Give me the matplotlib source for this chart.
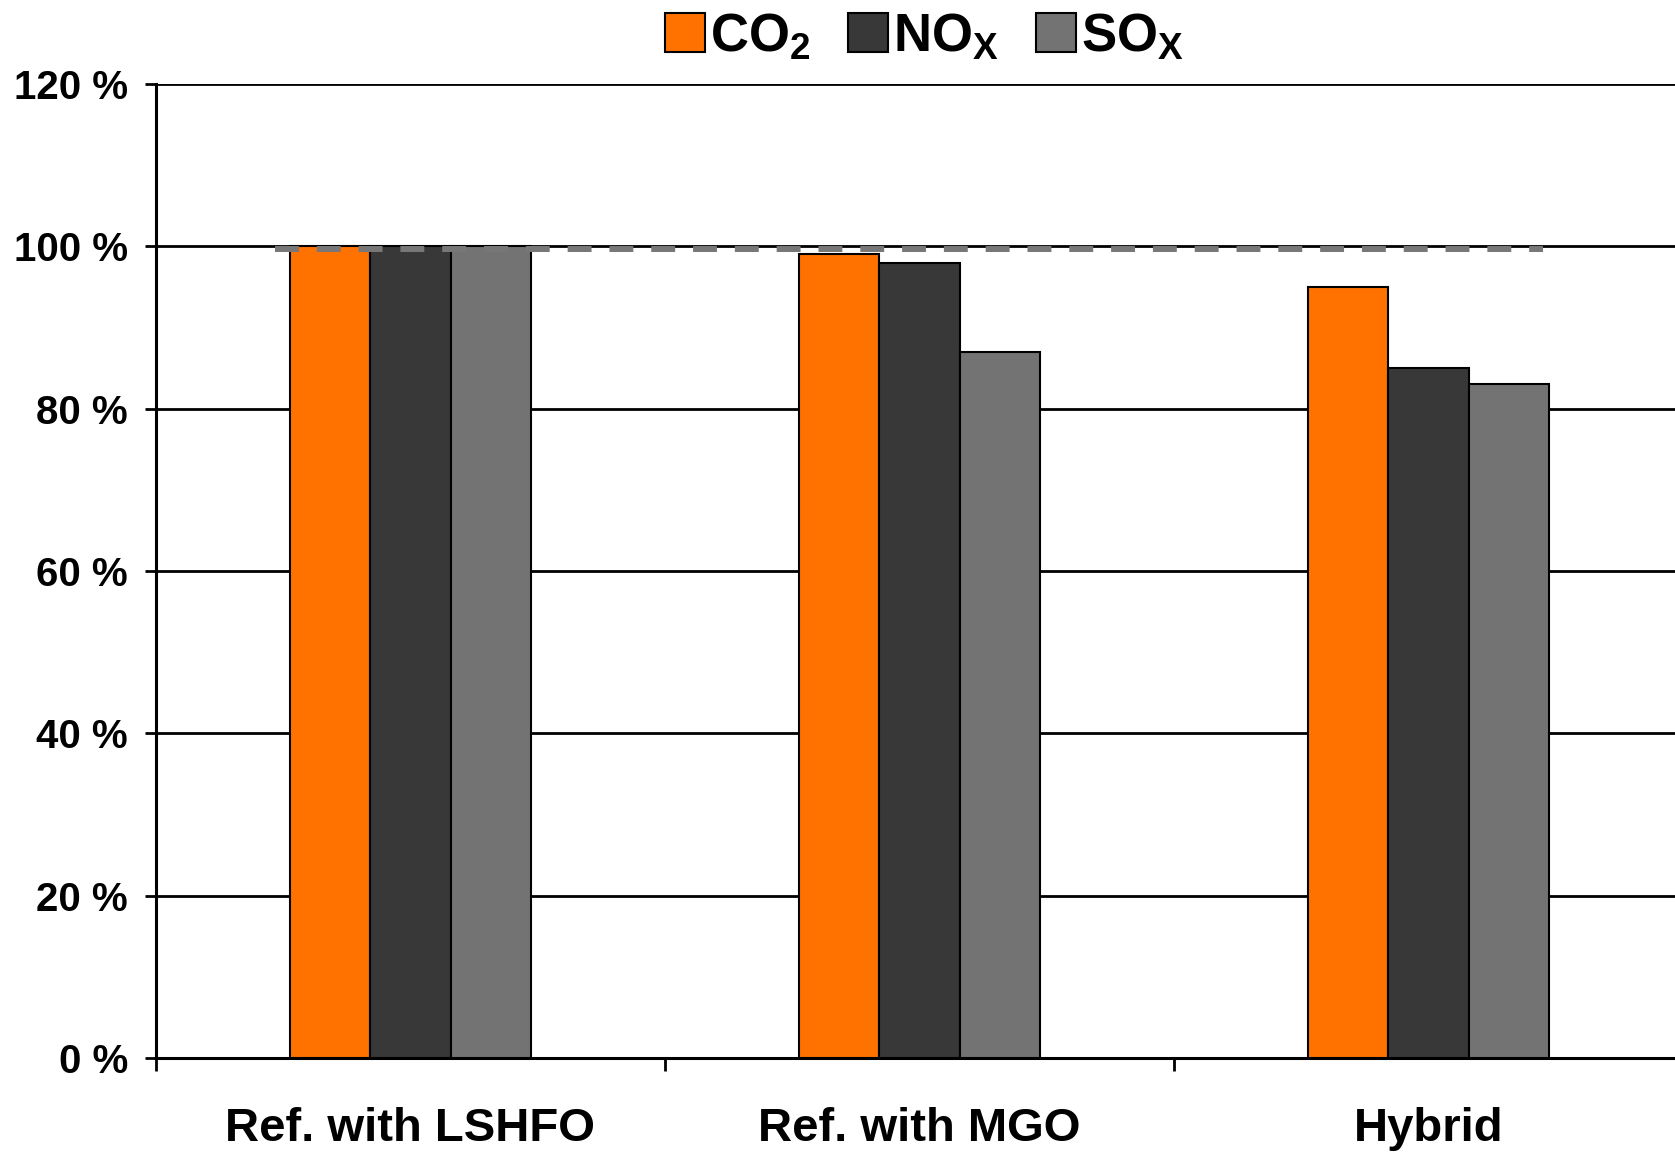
import matplotlib
matplotlib.use('Agg')
import matplotlib.pyplot as plt
import matplotlib.transforms as mtransforms
import numpy as np

categories = ['Ref. with LSHFO', 'Ref. with MGO', 'Hybrid']
co2 = [100, 99, 95]
nox = [100, 98, 85]
sox = [100, 87, 83]
ref_level = 100
y_ticks = [0, 20, 40, 60, 80, 100, 120]

plt.rcParams['font.family'] = ['Liberation Sans', 'DejaVu Sans']
plt.rcParams['font.weight'] = 'bold'
plt.rcParams['mathtext.fontset'] = 'custom'
plt.rcParams['mathtext.rm'] = 'Liberation Sans:bold'
plt.rcParams['mathtext.bf'] = 'Liberation Sans:bold'
plt.rcParams['mathtext.it'] = 'Liberation Sans:bold'

fig = plt.figure(figsize=(16.75, 11.54), dpi=100)
ax = fig.add_axes([0.0931, 0.0832, 0.9117, 0.844])

x = np.arange(len(categories)) + 0.5
w = 0.158
series = [(co2, '#FF7200', r'$\mathrm{CO_2}$'),
          (nox, '#383838', r'$\mathrm{NO_X}$'),
          (sox, '#737373', r'$\mathrm{SO_X}$')]
for i, (vals, col, lab) in enumerate(series):
    ax.bar(x + (i - 1) * w, vals, w, color=col, edgecolor='black',
           linewidth=1.5, label=lab, zorder=3)

# reference line at 100 %, sits a hair under the gridline like the original
shift = mtransforms.offset_copy(ax.get_yaxis_transform(), fig=fig, y=-2.5, units='dots')
ax.plot([0.078, 0.908], [ref_level, ref_level], transform=mtransforms.blended_transform_factory(ax.transAxes, shift),
        color='#777777', lw=4.3, dashes=(4.0, 3.0), dash_capstyle='butt', zorder=4)

ax.set_xlim(0, 3)
ax.set_ylim(0, 120)
ax.set_yticks(y_ticks)
ax.set_yticklabels([f'{v} %' for v in y_ticks])
ax.yaxis.grid(True, color='black', lw=2)
ax.set_axisbelow(True)

ax.set_xticks([0, 1, 2, 3])
ax.set_xticklabels([])
ax.set_xticks(x, minor=True)
ax.set_xticklabels(categories, minor=True, fontsize=34, fontweight='bold')
ax.tick_params(axis='x', which='major', length=9, width=2, direction='out')
ax.tick_params(axis='x', which='minor', length=0, pad=35)
ax.tick_params(axis='y', length=8, width=2, pad=12, labelsize=29)

for s in ['top', 'right']:
    ax.spines[s].set_visible(False)
ax.spines['left'].set_linewidth(2.2)
ax.spines['bottom'].set_linewidth(2.2)

fig.legend(loc='center', bbox_to_anchor=(0.552, 0.968), ncol=3, frameon=False,
           fontsize=38, handlelength=0.76, handleheight=0.76,
           handletextpad=0.1, columnspacing=0.7, borderpad=0)

fig.savefig('out.png', dpi=100)
